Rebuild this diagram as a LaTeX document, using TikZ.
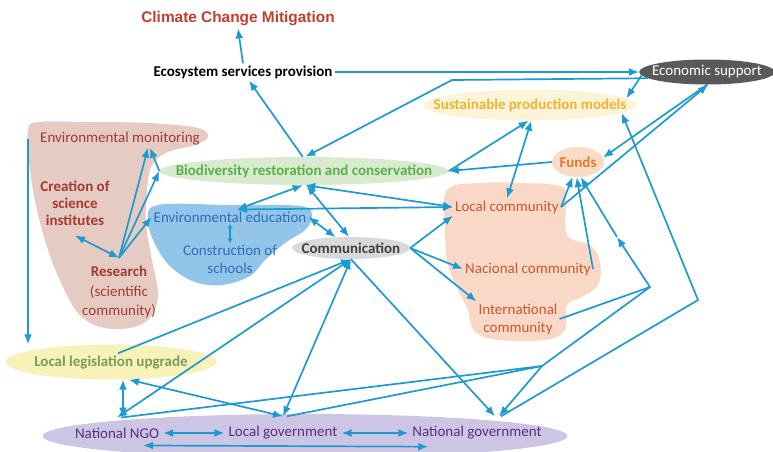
\documentclass[tikz,border=0pt]{standalone}
\usepackage{fontspec}
\setmainfont{Carlito}
\newfontfamily\arialfont{Liberation Sans}
\usetikzlibrary{arrows.meta,shapes.geometric}

\definecolor{flowblue}{HTML}{1E9AD2}
\definecolor{climatered}{HTML}{C43C2A}
\definecolor{econgrey}{HTML}{595959}
\definecolor{susttext}{HTML}{F0B42E}
\definecolor{sustfill}{HTML}{FBF4D8}
\definecolor{biodtext}{HTML}{5BAF4A}
\definecolor{biodfill}{HTML}{D8EBCF}
\definecolor{fundstext}{HTML}{E27A2B}
\definecolor{fundsfill}{HTML}{F9DCC6}
\definecolor{researchfill}{HTML}{E6CBC3}
\definecolor{researchtext}{HTML}{A33A33}
\definecolor{edufill}{HTML}{93C5EA}
\definecolor{edutext}{HTML}{2F6FB7}
\definecolor{commfill}{HTML}{D9D9D9}
\definecolor{commtext}{HTML}{404040}
\definecolor{cmtyfill}{HTML}{F9D8C7}
\definecolor{cmtytext}{HTML}{C9582C}
\definecolor{legisfill}{HTML}{F6F2B8}
\definecolor{legistext}{HTML}{7A9C5E}
\definecolor{govfill}{HTML}{CCC6E4}
\definecolor{govtext}{HTML}{5C2D85}

\tikzset{
  every node/.style={font=\fontsize{15}{18}\selectfont, inner sep=2pt, align=center},
  flow/.style={draw=flowblue, line width=1.7pt, -{Latex[length=10pt,width=8pt]}},
  biflow/.style={flow, {Latex[length=10pt,width=8pt]}-{Latex[length=10pt,width=8pt]}},
  smallflow/.style={draw=flowblue, line width=1.3pt, {Latex[length=5pt,width=5.5pt]}-{Latex[length=5pt,width=5.5pt]}},
  link/.style={draw=flowblue, line width=1.7pt},
  oval/.style={ellipse, inner ysep=0pt},
  boldtxt/.style={font=\fontsize{15}{18}\selectfont\bfseries},
  govtxt/.style={text=govtext, inner xsep=4pt, inner ysep=10pt},
}

\begin{document}
\begin{tikzpicture}[x=1pt, y=-1pt]
    \useasboundingbox (0,0) rectangle (773,451);
    \clip (0,0) rectangle (773,451);

    \fill[researchfill] plot[smooth cycle, tension=0.6] coordinates {(28,130) (30,170) (37,210) (48,250) (62,285) (78,313) (100,327) (130,328) (150,318) (158,295) (152,260) (146,225) (147,190) (152,165) (168,152) (195,145) (208,137) (198,128) (150,123) (90,122) (40,122)};
    \fill[edufill] plot[smooth cycle, tension=0.6] coordinates {(158,205) (230,205) (300,206) (312,216) (305,230) (285,243) (265,260) (250,276) (222,285) (195,282) (172,268) (157,248) (148,222)};
    \fill[cmtyfill] plot[smooth cycle, tension=0.6] coordinates {(447,190) (480,183) (520,183) (560,186) (566,200) (567,235) (590,245) (600,262) (598,285) (580,298) (567,305) (565,330) (545,340) (500,340) (475,332) (468,310) (458,290) (448,265) (445,230)};

    \node[oval, fill=govfill, inner xsep=0pt, minimum width=525pt, minimum height=44pt] (gov) at (305,436) {};
    \node[oval, fill=legisfill, inner xsep=-2pt, minimum width=208pt, minimum height=35pt, text=legistext, boldtxt] (legis) at (111,362) {Local legislation upgrade};
    \node[oval, fill=econgrey, inner xsep=-7pt, minimum width=134pt, minimum height=25pt, text=white] (econ) at (707,72) {Economic support};
    \node[oval, fill=sustfill, inner xsep=-21pt, minimum width=210pt, minimum height=31pt, text=susttext, boldtxt] (sust) at (530,105) {Sustainable production models};
    \node[oval, fill=biodfill, inner xsep=-26pt, minimum width=287pt, minimum height=28pt, text=biodtext, boldtxt] (biod) at (304,171) {Biodiversity restoration and conservation};
    \node[oval, fill=fundsfill, inner xsep=-1pt, minimum width=52pt, minimum height=30pt, text=fundstext, boldtxt] (funds) at (578,162) {Funds};
    \node[oval, fill=commfill, inner xsep=-8pt, minimum width=118pt, minimum height=22pt, text=commtext, boldtxt] (comm) at (351,248) {Communication};

    \node[text=climatered, font=\arialfont\fontsize{15.4}{18}\selectfont\bfseries] (climate) at (238,19) {Climate Change Mitigation};
    \node[boldtxt] (ecosys) at (243,72) {Ecosystem services provision};
    \node[text=researchtext] (envmon) at (120,139) {Environmental monitoring};
    \node[text=researchtext, font=\fontsize{15}{17}\selectfont\bfseries] (creation) at (75,203) {Creation of\\science\\institutes};
    \node[text=researchtext, font=\fontsize{15}{19.5}\selectfont] (research) at (119,292) {\textbf{Research}\\(scientific\\community)};
    \node[text=edutext] (enved) at (230,217) {Environmental education};
    \node[text=edutext] (constr) at (230,259) {Construction of\\schools};
    \node[text=cmtytext] (localc) at (507,207) {Local community};
    \node[text=cmtytext] (nacc) at (528,269) {Nacional community};
    \node[text=cmtytext] (intc) at (518,319) {International\\community};
    \node[govtxt] (nngo) at (117,433) {National NGO};
    \node[govtxt] (lgov) at (283,433) {Local government};
    \node[govtxt] (ngov) at (477,433) {National government};

    \coordinate (k1) at (452,80);
    \coordinate (h1) at (542,366);
    \coordinate (h2) at (650,287);
    \coordinate (hm) at (617,237);
    \coordinate (h3) at (698,300);
    \coordinate (rhub) at ([yshift=6pt]research.north);
    \coordinate (monleft) at ([xshift=-10pt]envmon.west);

    \draw[flow] (ecosys.north) -- (climate.south);
    \draw[flow] (ecosys.east) -- (econ.west);
    \draw[flow] (econ.183) -- (sust.4);
    \draw[flow] (econ.186) -- (k1) -- (biod.85);
    \draw[flow] (biod.95) -- ([xshift=6pt]ecosys.south);
    \draw[flow] (funds.west) -- (biod.east);
    \draw[flow] (biod.east) -- (sust.-95);
    \draw[biflow] (sust.-85) -- (localc.north);
    \draw[flow] (econ.-90) -- (funds.10);
    \draw[flow] (localc.east) -- (econ.-85);
    \draw[flow] (localc.east) -- (funds.-110);
    \draw[flow] (nacc.east) -- (funds.-95);
    \draw[link] (intc.east) -- (h2);
    \draw[flow] (h1) -- (h2) -- (hm);
    \draw[flow] (hm) -- (funds.-80);
    \draw[link] ([xshift=4pt]nngo.north) -- (h1);
    \draw[link] ([xshift=4pt]lgov.north) -- (h1);
    \draw[flow] (h1) -- ([xshift=22pt]ngov.north);
    \draw[flow] ([xshift=24pt]ngov.north) -- (h3) -- (sust.-5);
    \draw[flow] (comm.south) -- ([xshift=18pt]ngov.north);
    \draw[flow] ([xshift=7pt,yshift=-9pt]legis.north) -- (comm.south);
    \draw[biflow] (nngo.north) -- (comm.south);
    \draw[biflow] (lgov.north) -- (comm.south);
    \draw[biflow] ([xshift=12pt]legis.south) -- ([xshift=6pt]nngo.north);
    \draw[biflow] ([xshift=18pt]legis.south) -- (lgov.north);
    \draw[biflow] (nngo.east) -- (lgov.west);
    \draw[biflow] (lgov.east) -- (ngov.west);
    \draw[biflow] ([xshift=-20pt,yshift=3pt]nngo.south east) -- ([xshift=20pt,yshift=3pt]ngov.south west);
    \draw[biflow] (rhub) -- ([yshift=-8pt]creation.south);
    \draw[flow] (rhub) -- ([xshift=28pt]envmon.south);
    \draw[flow] (rhub) -- (biod.west);
    \draw[flow] (rhub) -- (enved.west);
    \draw[flow] (biod.west) -- ([xshift=30pt]envmon.south);
    \draw[smallflow] ([yshift=1pt]enved.south) -- ([yshift=-1pt]constr.north);
    \draw[biflow] (biod.-95) -- ([xshift=7pt]enved.north);
    \draw[biflow] ([xshift=7pt]enved.north) -- (localc.west);
    \draw[biflow] (biod.-85) -- (localc.west);
    \draw[biflow] (biod.-80) -- (comm.100);
    \draw[biflow] (enved.east) -- (comm.145);
    \draw[flow] (comm.east) -- (localc.south west);
    \draw[flow] (comm.east) -- (nacc.west);
    \draw[flow] (comm.east) -- (intc.north west);
    \draw[flow] (monleft) -- (monleft |- legis.north);
\end{tikzpicture}
\end{document}
